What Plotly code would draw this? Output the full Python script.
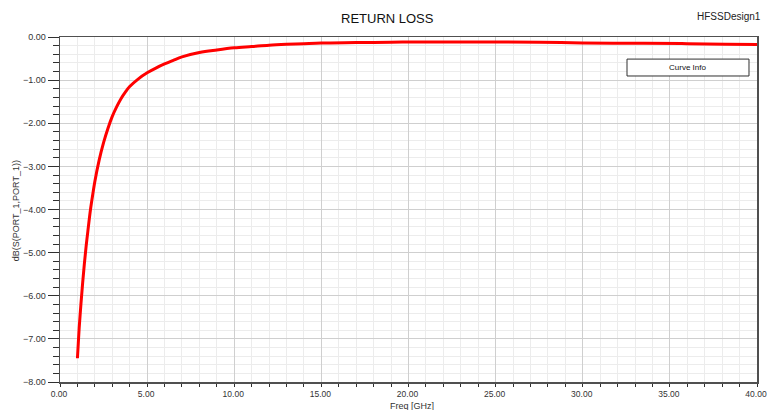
import plotly.graph_objects as go

# Data
freq_ghz = [1.0, 1.05, 1.1, 1.2, 1.3, 1.4, 1.5, 1.6, 1.75, 1.9, 2.0, 2.25, 2.5, 2.75,
            3.0, 3.25, 3.5, 3.75, 4.0, 4.5, 5.0, 5.5, 6.0, 6.5, 7.0, 8.0, 9.0,
            10.0, 11.0, 12.0, 13.0, 14.0, 15.0, 17.0, 19.0, 21.0, 24.0, 27.5,
            30.0, 33.5, 36.0, 38.2, 40.0]
s11_db = [-7.45, -7.1, -6.75, -6.2, -5.7, -5.25, -4.85, -4.5, -4.0, -3.6, -3.35,
          -2.85, -2.45, -2.12, -1.84, -1.62, -1.43, -1.28, -1.15, -0.97, -0.83,
          -0.72, -0.625, -0.54, -0.46, -0.36, -0.30, -0.25, -0.22, -0.19, -0.17,
          -0.155, -0.14, -0.13, -0.12, -0.115, -0.115, -0.12, -0.14, -0.145,
          -0.155, -0.17, -0.175]

title_text = "RETURN LOSS"
design_text = "HFSSDesign1"
legend_text = "Curve Info"
x_label = "Freq [GHz]"
y_label = "dB(S(PORT_1,PORT_1))"

FONT = "Liberation Sans, Arial, sans-serif"

fig = go.Figure()
fig.add_trace(go.Scatter(x=freq_ghz, y=s11_db, mode="lines",
                         line=dict(color="#ff0000", width=3),
                         line_shape="spline", hoverinfo="skip"))

axis_common = dict(
    showline=True, linecolor="#505050", linewidth=1.5, mirror=True,
    showgrid=True, gridcolor="#cfcfcf", gridwidth=1,
    zeroline=False, ticks="outside", tickcolor="#303030",
    tickformat=".2f", automargin=False, ticklabeloverflow="allow",
)

fig.update_xaxes(range=[0, 40], dtick=5, tick0=0, ticklen=3, tickwidth=1,
                 tickfont=dict(family=FONT, size=8.5, color="#333333"),
                 ticklabelshift=-1,
                 minor=dict(dtick=1, showgrid=True, gridcolor="#ececec",
                            ticks="outside", ticklen=3, tickcolor="#303030"),
                 **axis_common)
fig.update_yaxes(range=[-8, 0], dtick=1, tick0=0, ticklen=11, tickwidth=1,
                 tickfont=dict(family=FONT, size=9, color="#333333"),
                 minor=dict(dtick=0.2, showgrid=True, gridcolor="#ececec",
                            ticks="outside", ticklen=6, tickcolor="#303030"),
                 **axis_common)

fig.update_layout(
    width=767, height=410,
    margin=dict(l=60, r=10, t=37, b=28),
    paper_bgcolor="white", plot_bgcolor="white",
    showlegend=False,
    font=dict(family=FONT),
)

fig.add_annotation(text=title_text, xref="paper", yref="paper", x=0.47, y=1.055,
                   xanchor="center", yanchor="middle", showarrow=False,
                   font=dict(family=FONT, size=13, color="#111111"))
fig.add_annotation(text=design_text, xref="paper", yref="paper", x=1.0086, y=1.058,
                   xanchor="right", yanchor="middle", showarrow=False,
                   font=dict(family=FONT, size=10, color="#222222"))
fig.add_annotation(text=x_label, xref="paper", yref="paper", x=0.505, y=-0.069,
                   xanchor="center", yanchor="middle", showarrow=False,
                   font=dict(family=FONT, size=9, color="#333333"))
fig.add_annotation(text=y_label, xref="paper", yref="paper", x=-0.063, y=0.495,
                   xanchor="center", yanchor="middle", showarrow=False, textangle=-90,
                   font=dict(family=FONT, size=9, color="#333333"))

fig.add_shape(type="rect", xref="paper", yref="paper", x0=0.8135, x1=0.9885,
              y0=0.887, y1=0.936, line=dict(color="#303030", width=1),
              fillcolor="white")
fig.add_annotation(text=legend_text, xref="paper", yref="paper", x=0.901, y=0.912,
                   xanchor="center", yanchor="middle", showarrow=False,
                   font=dict(family=FONT, size=8, color="#111111"))

# remove the default page margin so the figure fills the window exactly
page_css = "document.body.style.margin='0';document.body.style.overflow='hidden';"
fig.write_html("out.html", post_script=page_css,
               config={"displayModeBar": False, "staticPlot": True})
